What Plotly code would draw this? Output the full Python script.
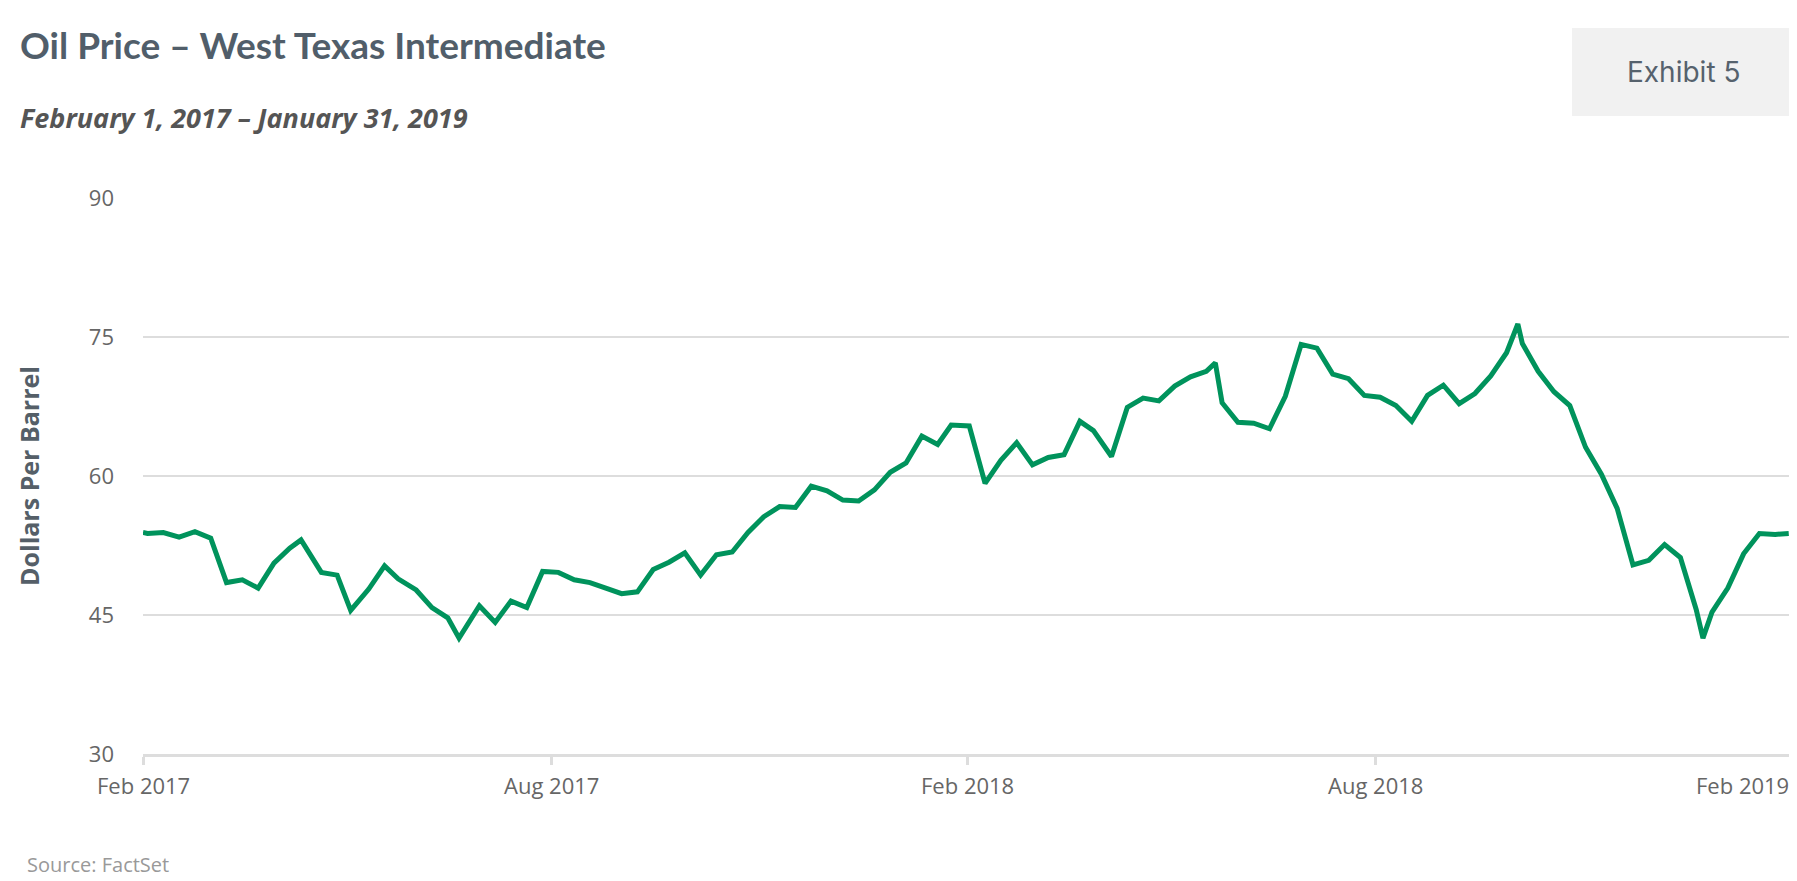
import plotly.graph_objects as go

dates = ['2017-02-01', '2017-02-03', '2017-02-10', '2017-02-17', '2017-02-24', '2017-03-03',
         '2017-03-10', '2017-03-17', '2017-03-24', '2017-03-31', '2017-04-07', '2017-04-12',
         '2017-04-21', '2017-04-28', '2017-05-04', '2017-05-12', '2017-05-19', '2017-05-25',
         '2017-06-02', '2017-06-09', '2017-06-16', '2017-06-21', '2017-06-30', '2017-07-07',
         '2017-07-14', '2017-07-21', '2017-07-28', '2017-08-04', '2017-08-11', '2017-08-18',
         '2017-08-25', '2017-09-01', '2017-09-08', '2017-09-15', '2017-09-22', '2017-09-29',
         '2017-10-06', '2017-10-13', '2017-10-20', '2017-10-27', '2017-11-03', '2017-11-10',
         '2017-11-17', '2017-11-24', '2017-12-01', '2017-12-08', '2017-12-15', '2017-12-22',
         '2017-12-29', '2018-01-05', '2018-01-12', '2018-01-19', '2018-01-25', '2018-02-02',
         '2018-02-09', '2018-02-16', '2018-02-23', '2018-03-02', '2018-03-09', '2018-03-16',
         '2018-03-23', '2018-03-29', '2018-04-06', '2018-04-13', '2018-04-20', '2018-04-27',
         '2018-05-04', '2018-05-11', '2018-05-18', '2018-05-22', '2018-05-25', '2018-06-01',
         '2018-06-08', '2018-06-15', '2018-06-22', '2018-06-29', '2018-07-06', '2018-07-13',
         '2018-07-20', '2018-07-27', '2018-08-03', '2018-08-10', '2018-08-17', '2018-08-24',
         '2018-08-31', '2018-09-07', '2018-09-14', '2018-09-21', '2018-09-28', '2018-10-03',
         '2018-10-05', '2018-10-12', '2018-10-19', '2018-10-26', '2018-11-02', '2018-11-09',
         '2018-11-16', '2018-11-23', '2018-11-30', '2018-12-07', '2018-12-14', '2018-12-21',
         '2018-12-24', '2018-12-28', '2019-01-04', '2019-01-11', '2019-01-18', '2019-01-25',
         '2019-01-31']
prices = [53.9, 53.8, 53.9, 53.4, 54.0, 53.3,
          48.5, 48.8, 47.9, 50.6, 52.2, 53.1,
          49.6, 49.3, 45.5, 47.8, 50.3, 48.9,
          47.7, 45.8, 44.7, 42.5, 46.0, 44.2,
          46.5, 45.8, 49.7, 49.6, 48.8, 48.5,
          47.9, 47.3, 47.5, 49.9, 50.7, 51.7,
          49.3, 51.5, 51.8, 53.9, 55.6, 56.7,
          56.6, 58.9, 58.4, 57.4, 57.3, 58.5,
          60.4, 61.4, 64.3, 63.4, 65.5, 65.4,
          59.2, 61.7, 63.6, 61.2, 62.0, 62.3,
          65.9, 64.9, 62.1, 67.4, 68.4, 68.1,
          69.7, 70.7, 71.3, 72.2, 67.9, 65.8,
          65.7, 65.1, 68.6, 74.2, 73.8, 71.0,
          70.5, 68.7, 68.5, 67.6, 65.9, 68.7,
          69.8, 67.8, 68.9, 70.8, 73.3, 76.4,
          74.3, 71.3, 69.1, 67.6, 63.1, 60.2,
          56.5, 50.4, 50.9, 52.6, 51.2, 45.6,
          42.5, 45.3, 47.9, 51.6, 53.8, 53.7,
          53.8]

tick_dates = ['2017-02-01', '2017-08-01', '2018-02-01', '2018-08-01', '2019-02-01']
tick_labels = ['Feb 2017', 'Aug 2017', 'Feb 2018', 'Aug 2018', 'Feb 2019']
y_ticks = [30, 45, 60, 75, 90]

fig = go.Figure()
fig.add_trace(go.Scatter(x=dates, y=prices, mode='lines',
                         line=dict(color='#00935c', width=5), showlegend=False))

fig.update_layout(
    width=1797, height=881,
    paper_bgcolor='white', plot_bgcolor='white',
    margin=dict(l=135, r=14, t=190, b=135),
    font=dict(family='Open Sans', color='#666666'),
    xaxis=dict(range=['2017-02-01', '2019-02-01'], tickvals=tick_dates, showticklabels=False,
               showgrid=False, showline=True, linecolor='#dddddd', linewidth=3,
               ticks='outside', ticklen=8, tickwidth=3, tickcolor='#dddddd'),
    yaxis=dict(range=[30, 90], tickvals=y_ticks, showgrid=True, gridcolor='#dddddd', gridwidth=1.5,
               zeroline=False, tickfont=dict(size=22, color='#666666'), ticklabelstandoff=28,
               title=dict(text='<b>Dollars Per Barrel</b>', font=dict(size=25, color='#555f68'),
                          standoff=42)),
)

for d, t in zip(tick_dates, tick_labels):
    fig.add_annotation(x=d, y=0, xref='x', yref='paper', yanchor='top', yshift=-14,
                       xanchor='right' if t == 'Feb 2019' else 'center',
                       text=t, showarrow=False, font=dict(size=22, color='#666666'))

# header and footer texts, paper fractions computed from page pixels
fig.add_annotation(x=-125 / 1648, y=(746 - 37) / 556, xref='paper', yref='paper',
                   text='<b>Oil Price – West Texas Intermediate</b>', showarrow=False,
                   xanchor='left', yanchor='middle', font=dict(family='Lato', size=37, color='#515e6a'))
fig.add_annotation(x=-125 / 1648, y=(746 - 109) / 556, xref='paper', yref='paper',
                   text='<b><i>February 1, 2017 – January 31, 2019</i></b>', showarrow=False,
                   xanchor='left', yanchor='middle', font=dict(family='Open Sans', size=27, color='#555555'))
fig.add_annotation(x=-118 / 1648, y=(746 - 856) / 556, xref='paper', yref='paper',
                   text='Source: FactSet', showarrow=False,
                   xanchor='left', yanchor='middle', font=dict(family='Open Sans', size=20, color='#999999'))
fig.add_shape(type='rect', xref='paper', yref='paper',
              x0=(1564 - 135) / 1648, x1=(1786 - 135) / 1648,
              y0=(746 - 108) / 556, y1=(746 - 20) / 556,
              fillcolor='#f1f1f1', line=dict(width=0), layer='below')
fig.add_annotation(x=(1675 - 135) / 1648, y=(746 - 64) / 556, xref='paper', yref='paper',
                   text='Exhibit 5', showarrow=False, xanchor='center', yanchor='middle',
                   font=dict(family='Inter', size=28, color='#56626d'))

fig.write_html('out.html')
